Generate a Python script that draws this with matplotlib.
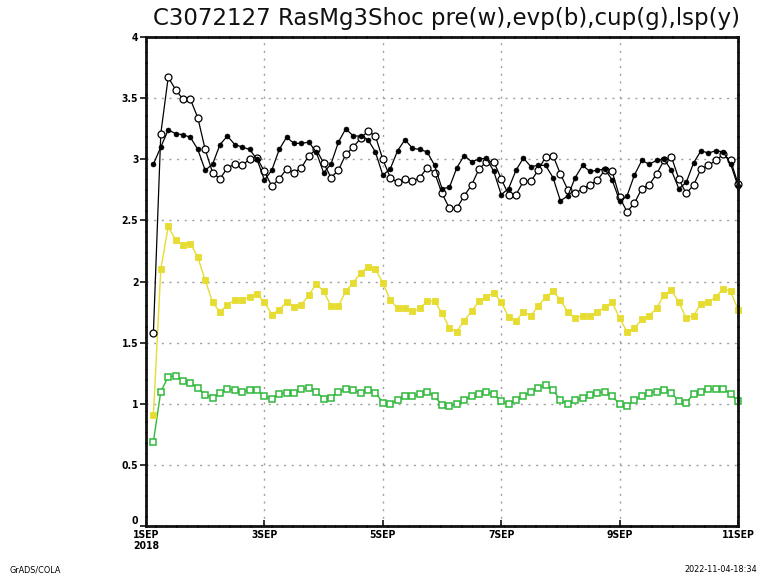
import matplotlib
matplotlib.use("Agg")
import matplotlib.pyplot as plt
import numpy as np

# 3-hourly series, 1SEP 03Z .. 11SEP 00Z (80 steps)
pre = [1.58, 3.21, 3.67, 3.57, 3.49, 3.49, 3.34, 3.08, 2.89, 2.84,
       2.93, 2.96, 2.95, 3.00, 3.01, 2.90, 2.78, 2.84, 2.92, 2.89,
       2.93, 3.03, 3.08, 2.97, 2.85, 2.91, 3.04, 3.10, 3.17, 3.23,
       3.19, 3.00, 2.85, 2.81, 2.84, 2.82, 2.85, 2.93, 2.89, 2.72,
       2.60, 2.60, 2.70, 2.79, 2.92, 2.98, 2.98, 2.84, 2.71, 2.71,
       2.82, 2.82, 2.91, 3.02, 3.03, 2.88, 2.75, 2.72, 2.76, 2.79,
       2.83, 2.91, 2.90, 2.69, 2.57, 2.64, 2.76, 2.79, 2.88, 2.99,
       3.02, 2.84, 2.72, 2.79, 2.92, 2.95, 2.99, 3.04, 2.99, 2.80]

evp = [2.96, 3.10, 3.24, 3.21, 3.20, 3.18, 3.08, 2.91, 2.96, 3.12,
       3.19, 3.12, 3.10, 3.08, 3.00, 2.83, 2.91, 3.08, 3.18, 3.13,
       3.13, 3.14, 3.06, 2.89, 2.96, 3.14, 3.25, 3.19, 3.19, 3.16,
       3.06, 2.87, 2.92, 3.07, 3.16, 3.09, 3.08, 3.06, 2.95, 2.76,
       2.77, 2.93, 3.03, 2.98, 3.00, 3.01, 2.90, 2.71, 2.76, 2.91,
       3.01, 2.94, 2.95, 2.95, 2.85, 2.66, 2.70, 2.85, 2.95, 2.90,
       2.91, 2.92, 2.83, 2.66, 2.70, 2.87, 2.99, 2.96, 2.99, 3.00,
       2.91, 2.76, 2.81, 2.97, 3.07, 3.05, 3.07, 3.06, 2.96, 2.78]

cup = [0.69, 1.10, 1.22, 1.23, 1.19, 1.17, 1.13, 1.075, 1.05, 1.09,
       1.12, 1.11, 1.10, 1.11, 1.11, 1.06, 1.04, 1.08, 1.09, 1.09,
       1.12, 1.13, 1.10, 1.04, 1.05, 1.10, 1.12, 1.11, 1.09, 1.11,
       1.09, 1.01, 1.00, 1.03, 1.06, 1.06, 1.08, 1.10, 1.06, 0.99,
       0.98, 1.00, 1.03, 1.06, 1.08, 1.10, 1.08, 1.02, 1.00, 1.03,
       1.06, 1.10, 1.13, 1.15, 1.11, 1.03, 1.00, 1.03, 1.05, 1.07,
       1.09, 1.10, 1.06, 1.00, 0.98, 1.03, 1.06, 1.09, 1.10, 1.11,
       1.09, 1.02, 1.01, 1.08, 1.10, 1.12, 1.12, 1.12, 1.08, 1.02]

lsp = [0.91, 2.10, 2.45, 2.34, 2.30, 2.31, 2.20, 2.01, 1.83, 1.75,
       1.81, 1.85, 1.85, 1.87, 1.90, 1.83, 1.73, 1.77, 1.83, 1.79,
       1.81, 1.89, 1.98, 1.92, 1.80, 1.80, 1.92, 1.99, 2.07, 2.12,
       2.10, 1.99, 1.85, 1.78, 1.78, 1.755, 1.78, 1.84, 1.84, 1.74,
       1.62, 1.59, 1.68, 1.755, 1.84, 1.87, 1.91, 1.83, 1.71, 1.68,
       1.75, 1.72, 1.80, 1.87, 1.92, 1.85, 1.75, 1.70, 1.72, 1.72,
       1.75, 1.79, 1.83, 1.70, 1.59, 1.62, 1.69, 1.72, 1.78, 1.89,
       1.93, 1.83, 1.70, 1.72, 1.82, 1.83, 1.875, 1.94, 1.92, 1.77]

day_ticks = [0, 2, 4, 6, 8, 10]
day_labels = ["1SEP\n2018", "3SEP", "5SEP", "7SEP", "9SEP", "11SEP"]
y_ticks = [0, 0.5, 1, 1.5, 2, 2.5, 3, 3.5, 4]
y_labels = ["0", "0.5", "1", "1.5", "2", "2.5", "3", "3.5", "4"]

title = "C3072127 RasMg3Shoc pre(w),evp(b),cup(g),lsp(y)"

# time in days since 1SEP 00Z
t = np.arange(1, len(pre) + 1) * 0.125

W, H = 760, 583
fig = plt.figure(figsize=(W / 100, H / 100), dpi=100)
fig.patch.set_facecolor("white")

L, R, T, B = 146, 738, 37, 526
ax = fig.add_axes([L / W, (H - B) / H, (R - L) / W, (B - T) / H])
ax.set_xlim(0, 10)
ax.set_ylim(0, 4)

# dotted grid
for yv in y_ticks[1:-1]:
    ax.axhline(yv, color="#a0a0a0", lw=1.0, ls=(0, (1.5, 4)), zorder=1)
for xv in day_ticks[1:-1]:
    ax.axvline(xv, color="#a0a0a0", lw=1.0, ls=(0, (1.5, 4)), zorder=1)

yellow = "#e6dc32"
green = "#2fb83a"

ax.plot(t, cup, color=green, lw=1.0, marker="s", ms=4.6, mfc="white",
        mec=green, mew=1.1, zorder=3, clip_on=False)
ax.plot(t, lsp, color=yellow, lw=1.0, marker="s", ms=4.2, mfc=yellow,
        mec=yellow, mew=0.6, zorder=3, clip_on=False)
ax.plot(t, pre, color="black", lw=0.9, marker="o", ms=5.0, mfc="white",
        mec="black", mew=0.9, zorder=4, clip_on=False)
ax.plot(t, evp, color="black", lw=0.9, marker="o", ms=3.6, mfc="black",
        mec="black", mew=0.4, zorder=5, clip_on=False)

# frame
for s in ax.spines.values():
    s.set_linewidth(2.0)
    s.set_linestyle((0, (3, 0.8)))
    s.set_color("#111111")
    s.set_zorder(6)

tick_font = dict(family="DejaVu Sans", stretch="condensed",
                 weight="bold", size=7.5)

ax.set_yticks(y_ticks)
ax.set_yticklabels(y_labels, **tick_font)
ax.set_xticks(day_ticks)
ax.set_xticklabels(day_labels, **tick_font, linespacing=1.15)
ax.tick_params(axis="y", direction="out", length=4, width=1.2, pad=1.5,
               color="#111111")
ax.tick_params(axis="x", direction="in", length=4, width=1.2, pad=2.8,
               color="#111111")
# lift the zero label a little so it clears the date label below it
ax.get_yticklabels()[0].set_va("bottom")

fig.text((L + R) / 2 / W + 0.006, 1 - 19 / H, title, ha="center",
         va="center", fontsize=16.5, family="DejaVu Sans", color="#111111")

fig.text(10 / W, 1 - 570 / H, "GrADS/COLA", ha="left", va="center",
         fontsize=6.5, family="DejaVu Sans", stretch="condensed")
fig.text(757 / W, 1 - 570 / H, "2022-11-04-18:34", ha="right",
         va="center", fontsize=6.5, family="DejaVu Sans",
         stretch="condensed")

fig.savefig("out.png", dpi=100, facecolor="white")
